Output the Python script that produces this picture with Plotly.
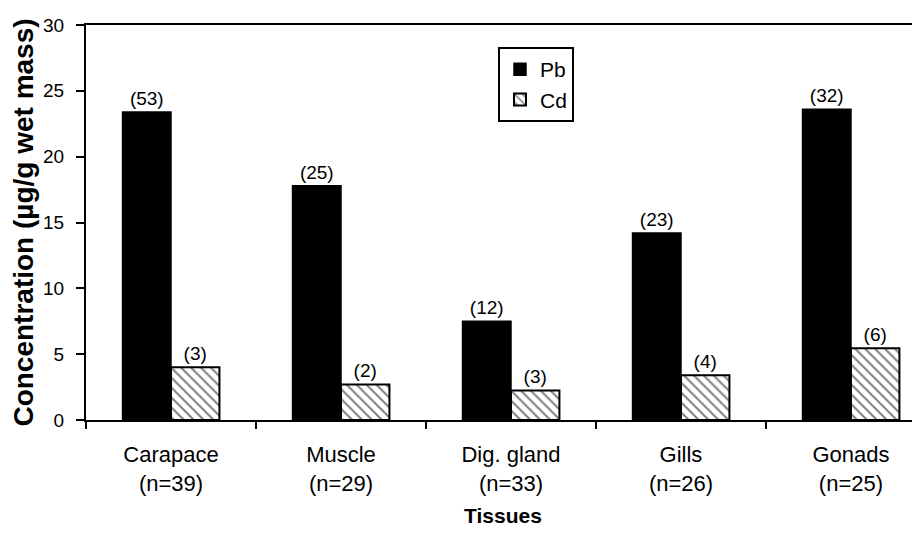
import plotly.graph_objects as go

tissues = ["Carapace<br>(n=39)", "Muscle<br>(n=29)", "Dig. gland<br>(n=33)", "Gills<br>(n=26)", "Gonads<br>(n=25)"]
pb_values = [23.4, 17.8, 7.5, 14.2, 23.6]
cd_values = [4.0, 2.7, 2.25, 3.4, 5.45]
pb_counts = ["(53)", "(25)", "(12)", "(23)", "(32)"]
cd_counts = ["(3)", "(2)", "(3)", "(4)", "(6)"]

FONT = "Liberation Sans, Arial, sans-serif"

fig = go.Figure()
fig.add_trace(go.Bar(
    x=tissues, y=pb_values, name="Pb",
    marker=dict(color="black", line=dict(color="black", width=1.5)),
    text=pb_counts, textposition="outside", constraintext="none",
    textfont=dict(size=19, color="black", family=FONT),
    cliponaxis=False,
))
fig.add_trace(go.Bar(
    x=tissues, y=cd_values, name="Cd",
    marker=dict(color="white", line=dict(color="black", width=2),
                pattern=dict(shape="\\", fgcolor="black", bgcolor="white", size=7, solidity=0.28)),
    text=cd_counts, textposition="outside", constraintext="none",
    textfont=dict(size=19, color="black", family=FONT),
    cliponaxis=False,
))

fig.update_layout(
    width=920, height=545,
    margin=dict(l=78, r=8, t=17, b=133),
    paper_bgcolor="white", plot_bgcolor="white",
    font=dict(family=FONT, color="black", size=19),
    barmode="group", bargap=0.43, bargroupgap=0,
    showlegend=True,
    legend=dict(x=0.494, y=0.944, xanchor="left", yanchor="top",
                bgcolor="white", bordercolor="black", borderwidth=2,
                font=dict(size=21, family=FONT, color="black"),
                itemwidth=30, tracegroupgap=0),
)
fig.update_xaxes(
    type="category", range=[-0.5, 4.406], automargin=False,
    showline=True, linecolor="black", linewidth=2, mirror=True,
    ticks="outside", tickson="boundaries", ticklen=7, tickwidth=2, tickcolor="black",
    ticklabelstandoff=14,
    tickfont=dict(size=22, family=FONT, color="black"),
    showgrid=False,
    title=dict(text="<b>Tissues</b>", font=dict(size=21, family=FONT, color="black"), standoff=13),
)
fig.update_yaxes(
    range=[0, 30], dtick=5, automargin=False,
    showline=True, linecolor="black", linewidth=2, mirror=False,
    ticks="outside", ticklen=8, tickwidth=2, tickcolor="black",
    ticklabelstandoff=8,
    tickfont=dict(size=19, family=FONT, color="black"),
    showgrid=False, zeroline=False,
    title=dict(text="<b>Concentration (µg/g wet mass)</b>", font=dict(size=28, family=FONT, color="black"), standoff=6),
)

fig.write_html("out.html")
